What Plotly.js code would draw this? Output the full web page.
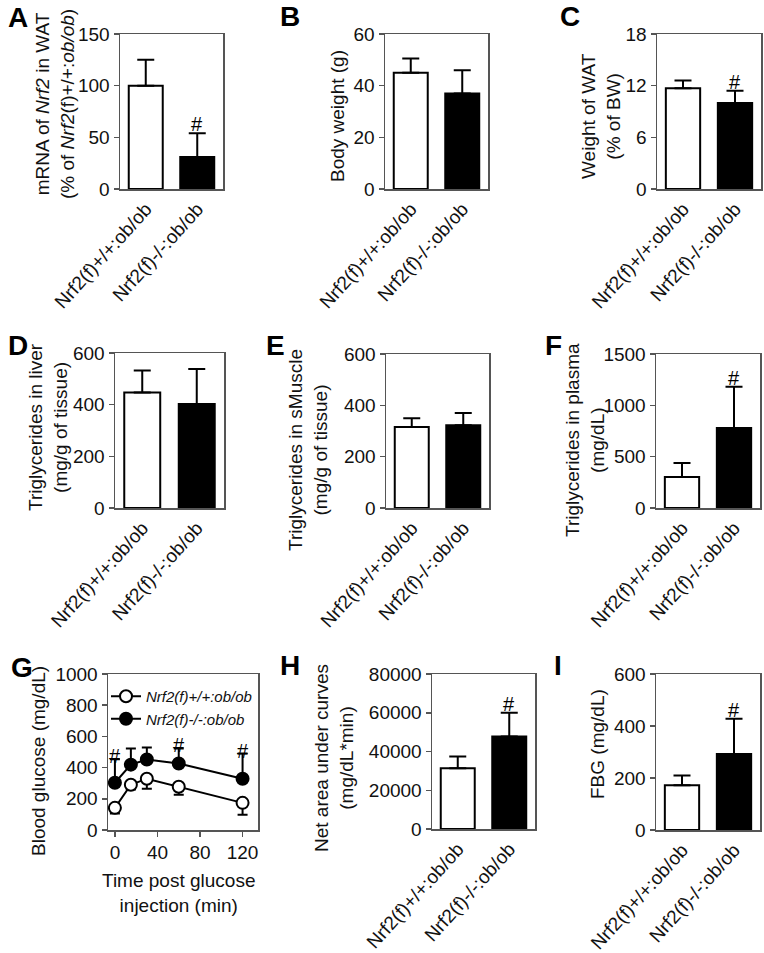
<!DOCTYPE html>
<html><head><meta charset="utf-8">
<script src="https://cdn.plot.ly/plotly-3.0.1.min.js"></script>
<style>body{margin:0;background:#fff}#chart{width:764px;height:953px}</style>
</head><body><div id="chart"></div><script>
// ---- data ----
const groups = ['Nrf2(f)+/+:ob/ob', 'Nrf2(f)-/-:ob/ob'];
const mrnaNrf2 = [100, 31];          const mrnaNrf2Err = [25, 23];
const bodyWeight = [45, 37];         const bodyWeightErr = [5.5, 9];
const watWeight = [11.7, 10.0];      const watWeightErr = [0.9, 1.4];
const tgLiver = [447, 403];          const tgLiverErr = [85, 135];
const tgMuscle = [316, 322];         const tgMuscleErr = [34, 48];
const tgPlasma = [302, 780];         const tgPlasmaErr = [136, 400];
const aucGlucose = [31300, 47700];   const aucGlucoseErr = [6100, 12300];
const fbg = [172, 292];              const fbgErr = [38, 136];
const timeMin = [0, 15, 30, 60, 120];
const glucoseWT = [142, 290, 329, 277, 174]; const glucoseWTErr = [36, 30, 64, 51, 77];
const glucoseKO = [303, 419, 452, 426, 329]; const glucoseKOErr = [150, 104, 77, 97, 161];
const sigTimes = [0, 60, 120];
const yTicksA = [0, 50, 100, 150];
const yTicksB = [0, 20, 40, 60];
const yTicksC = [0, 6, 12, 18];
const yTicksD = [0, 200, 400, 600];
const yTicksF = [0, 500, 1000, 1500];
const yTicksG = [0, 200, 400, 600, 800, 1000];
const xTicksG = [0, 40, 80, 120];
const yTicksH = [0, 20000, 40000, 60000, 80000];

// ---- layout helpers ----
const W = 764, H = 953;
const FONT = 'Liberation Sans, Arial, Helvetica, sans-serif';
const px = v => v / W, py = v => 1 - v / H;
const AX = '#555';

const panels = [
  {id:1, letter:'A', vals:mrnaNrf2, err:mrnaNrf2Err, ticks:yTicksA, box:[120,223,34,189], sig:true,
   title:'mRNA of <i>Nrf2</i> in WAT<br>(% of <i>Nrf2</i>(f)+/+:<i>ob/ob</i>)', tpos:[55,104], lpos:[18,18]},
  {id:2, letter:'B', vals:bodyWeight, err:bodyWeightErr, ticks:yTicksB, box:[385,488,34,189], sig:false,
   title:'Body weight (g)', tpos:[338,116], lpos:[290,16]},
  {id:3, letter:'C', vals:watWeight, err:watWeightErr, ticks:yTicksC, box:[657,761,34,189], sig:true,
   title:'Weight of WAT<br>(% of BW)', tpos:[601,116], lpos:[570,16]},
  {id:4, letter:'D', vals:tgLiver, err:tgLiverErr, ticks:yTicksD, box:[115,224,353,508], sig:false,
   title:'Triglycerides in liver<br>(mg/g of tissue)', tpos:[48,427], lpos:[18,345]},
  {id:5, letter:'E', vals:tgMuscle, err:tgMuscleErr, ticks:yTicksD, box:[386,489,354,508], sig:false,
   title:'Triglycerides in sMuscle<br>(mg/g of tissue)', tpos:[308,450], lpos:[275,345]},
  {id:6, letter:'F', vals:tgPlasma, err:tgPlasmaErr, ticks:yTicksF, box:[656,760,354,508], sig:true,
   title:'Triglycerides in plasma<br>(mg/dL)', tpos:[585,440], lpos:[553,345]},
  {id:8, letter:'H', vals:aucGlucose, err:aucGlucoseErr, ticks:yTicksH, box:[432,535,674,829], sig:true,
   title:'Net area under curves<br>(mg/dL*min)', tpos:[334,758], lpos:[290,665]},
  {id:9, letter:'I', vals:fbg, err:fbgErr, ticks:yTicksD, box:[656,760,674,830], sig:true,
   title:'FBG (mg/dL)', tpos:[597,744], lpos:[558,665]}
];

const traces = [];
const layout = {
  width: W, height: H, margin:{l:0,r:0,t:0,b:0},
  paper_bgcolor:'#fff', plot_bgcolor:'#fff',
  font:{family:FONT, size:19, color:'#111'},
  showlegend:true,
  annotations:[]
};

function yAxis(ticks, box){
  return {domain:[py(box[3]), py(box[2])], range:[ticks[0], ticks[ticks.length-1]],
    tickvals:ticks, tickformat:'d', showline:true, linecolor:AX, linewidth:1.5, mirror:true,
    ticks:'outside', ticklen:5, tickwidth:1.5, tickcolor:AX, showgrid:false, zeroline:false,
    tickfont:{size:19, family:FONT, color:'#111'}, fixedrange:true};
}

panels.forEach(p => {
  const xs = p.id === 1 ? 'x' : 'x' + p.id, ys = p.id === 1 ? 'y' : 'y' + p.id;
  const xk = p.id === 1 ? 'xaxis' : 'xaxis' + p.id, yk = p.id === 1 ? 'yaxis' : 'yaxis' + p.id;
  traces.push({type:'bar', x:groups, y:p.vals, xaxis:xs, yaxis:ys, width:0.66, showlegend:false,
    marker:{color:['#ffffff','#000000'], line:{color:'#000', width:2}},
    error_y:{type:'data', symmetric:false, array:p.err, arrayminus:p.err.map(()=>0),
      color:'#000', thickness:2, width:8.5},
    hoverinfo:'skip'});
  layout[xk] = {domain:[px(p.box[0]), px(p.box[1])], anchor:ys, type:'category', range:[-0.5,1.5],
    showline:true, linecolor:AX, linewidth:1.5, mirror:true, ticks:'', showgrid:false,
    tickangle:-48, tickfont:{size:19, family:FONT, color:'#111'}, fixedrange:true};
  layout[yk] = Object.assign(yAxis(p.ticks, p.box), {anchor:xs});
  layout.annotations.push({xref:'paper', yref:'paper', x:px(p.tpos[0]), y:py(p.tpos[1]),
    text:p.title, textangle:-90, showarrow:false, xanchor:'center', yanchor:'middle',
    font:{size:19, family:FONT, color:'#111'}});
  layout.annotations.push({xref:'paper', yref:'paper', x:px(p.lpos[0]), y:py(p.lpos[1]),
    text:'<b>'+p.letter+'</b>', showarrow:false, xanchor:'center', yanchor:'middle',
    font:{size:28, family:FONT, color:'#000'}});
  if (p.sig) {
    layout.annotations.push({xref:xs, yref:ys, x:groups[1], y:p.vals[1]+p.err[1],
      text:'#', showarrow:false, xanchor:'center', yanchor:'bottom', yshift:-4,
      font:{size:20, family:FONT, color:'#000'}});
  }
});

// ---- panel G: glucose tolerance ----
const gBox = [108,258,674,830];
traces.push({type:'scatter', mode:'lines+markers', x:timeMin, y:glucoseWT, xaxis:'x7', yaxis:'y7',
  name:'<i>Nrf2(f)+/+:ob/ob</i>', line:{color:'#000', width:2},
  marker:{symbol:'circle', size:12, color:'#fff', line:{color:'#000', width:2}},
  error_y:{type:'data', symmetric:false, array:glucoseWTErr.map(()=>0), arrayminus:glucoseWTErr,
    color:'#000', thickness:2, width:5}, hoverinfo:'skip'});
traces.push({type:'scatter', mode:'lines+markers', x:timeMin, y:glucoseKO, xaxis:'x7', yaxis:'y7',
  name:'<i>Nrf2(f)-/-:ob/ob</i>', line:{color:'#000', width:2},
  marker:{symbol:'circle', size:12, color:'#000', line:{color:'#000', width:2}},
  error_y:{type:'data', symmetric:false, array:glucoseKOErr, arrayminus:glucoseKOErr.map(()=>0),
    color:'#000', thickness:2, width:5}, hoverinfo:'skip'});
layout.xaxis7 = {domain:[px(gBox[0]), px(gBox[1])], anchor:'y7', range:[-6.5, 134.5],
  tickvals:xTicksG, showline:true, linecolor:AX, linewidth:1.5, mirror:true,
  ticks:'outside', ticklen:5, tickwidth:1.5, tickcolor:AX, showgrid:false, zeroline:false,
  tickfont:{size:19, family:FONT, color:'#111'}, fixedrange:true};
layout.yaxis7 = Object.assign(yAxis(yTicksG, gBox), {anchor:'x7'});
layout.legend = {x:px(106), y:py(680), xanchor:'left', yanchor:'top', bgcolor:'rgba(0,0,0,0)',
  font:{size:15, family:FONT, color:'#111'}, itemwidth:30, tracegroupgap:0};
sigTimes.forEach(t => {
  const i = timeMin.indexOf(t);
  layout.annotations.push({xref:'x7', yref:'y7', x:t, y:glucoseKO[i]+glucoseKOErr[i],
    text:'#', showarrow:false, xanchor:'center', yanchor:'bottom', yshift:-10,
    font:{size:20, family:FONT, color:'#000'}});
});
layout.annotations.push({xref:'paper', yref:'paper', x:px(38), y:py(761), text:'Blood glucose (mg/dL)',
  textangle:-90, showarrow:false, xanchor:'center', yanchor:'middle', font:{size:19, family:FONT, color:'#111'}});
layout.annotations.push({xref:'paper', yref:'paper', x:px(178), y:py(893), text:'Time post glucose<br>injection (min)',
  showarrow:false, xanchor:'center', yanchor:'middle', font:{size:19, family:FONT, color:'#111'}});
layout.annotations.push({xref:'paper', yref:'paper', x:px(22), y:py(667), text:'<b>G</b>',
  showarrow:false, xanchor:'center', yanchor:'middle', font:{size:28, family:FONT, color:'#000'}});

Plotly.newPlot('chart', traces, layout, {staticPlot:true, displayModeBar:false});
</script></body></html>
